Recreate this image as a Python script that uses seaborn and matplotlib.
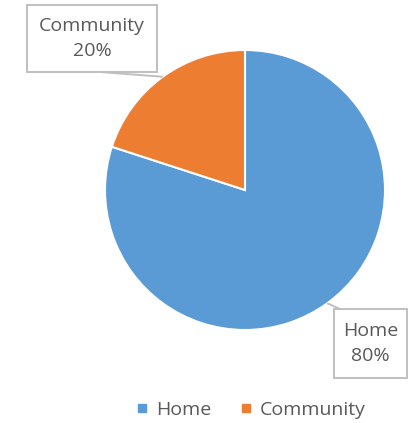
import numpy as np
import matplotlib
matplotlib.use("Agg")
import matplotlib.pyplot as plt
from matplotlib.patches import Rectangle
import seaborn as sns

sns.set_style("white")
plt.rcParams["font.family"] = ["Open Sans", "DejaVu Sans"]

# data
categories = ["Home", "Community"]
shares = [80, 20]
colors = ["#5B9BD5", "#ED7D31"]

fig = plt.figure(figsize=(4.08, 4.23), dpi=100)
ax = fig.add_axes([0, 0, 1, 1])

cx, cy, r = 245, 233, 140
wedges, _ = ax.pie(shares, colors=colors, startangle=90, counterclock=False,
                   center=(cx, cy), radius=r, frame=True,
                   wedgeprops=dict(edgecolor="white", linewidth=1.5))
ax.set_xlim(0, 408)
ax.set_ylim(0, 423)
ax.set_aspect("equal")
ax.axis("off")

# label boxes (x0, y0, w, h) and where the leader line meets the box
boxes = {"Community": (27, 351, 130, 67), "Home": (334, 45, 73, 69)}
line_end = {"Community": (100, 351), "Home": (340, 114)}
total = sum(shares)
for w, name, val in zip(wedges, categories, shares):
    ang = np.deg2rad((w.theta1 + w.theta2) / 2)
    tip = (cx + r * np.cos(ang), cy + r * np.sin(ang))
    x0, y0, bw, bh = boxes[name]
    ax.plot([tip[0], line_end[name][0]], [tip[1], line_end[name][1]],
            color="#BFBFBF", lw=1.4, zorder=3, solid_capstyle="butt")
    ax.add_patch(Rectangle((x0, y0), bw, bh, fc="white", ec="#BFBFBF", lw=1.4, zorder=4))
    ax.text(x0 + bw / 2, y0 + bh / 2, f"{name}\n{val / total:.0%}",
            ha="center", va="center", fontsize=14, color="#595959",
            linespacing=1.5, zorder=5)

handles = [plt.Line2D([], [], marker="s", ls="", color=c, markersize=6) for c in colors]
fig.legend(handles, categories, loc="center", bbox_to_anchor=(0.61, 0.031),
           ncol=2, frameon=False, fontsize=14, labelcolor="#595959",
           handletextpad=0.2, columnspacing=1.3, handlelength=1.0)

fig.savefig("out.png", dpi=100, facecolor="white")
